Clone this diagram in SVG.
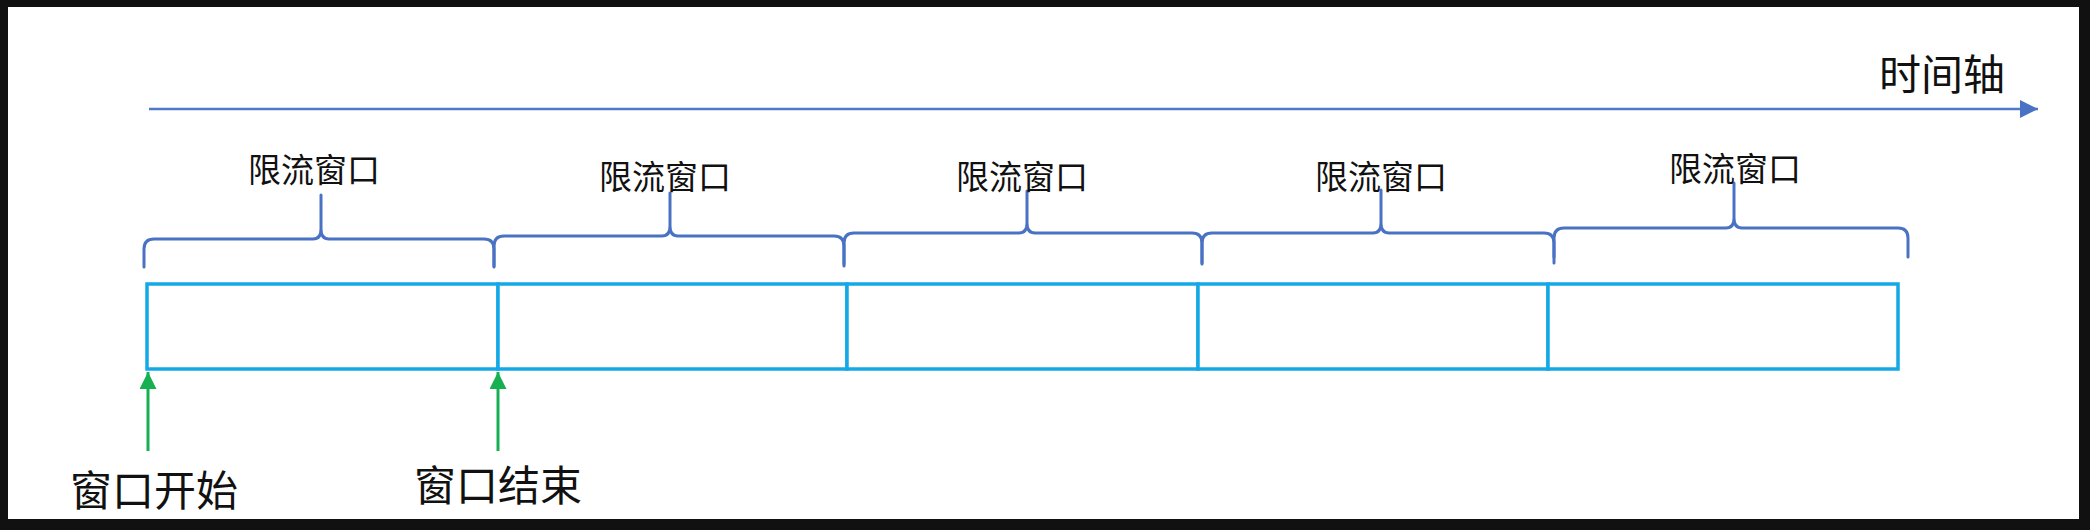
<svg xmlns="http://www.w3.org/2000/svg" width="2090" height="530" viewBox="0 0 2090 530">
  <style>
    .cell { fill: #ffffff; stroke: #14A9E6; stroke-width: 3.5; }
    .brace { fill: none; stroke: #4A72C4; stroke-width: 3; stroke-linecap: round; stroke-linejoin: round; }
    .lbl { font-family: "Noto Sans CJK SC", "Noto Sans", sans-serif; font-size: 33px; fill: #111111; text-anchor: middle; }
    .big { font-family: "Noto Sans CJK SC", "Noto Sans", sans-serif; font-size: 42px; fill: #111111; text-anchor: middle; }
    .axis { stroke: #5079C8; stroke-width: 2.5; fill: none; }
    .green { stroke: #16B052; stroke-width: 3; fill: none; }
  </style>
  <defs>
    <marker id="axisHead" markerUnits="userSpaceOnUse" markerWidth="18" markerHeight="18" refX="18" refY="9" orient="auto">
      <path d="M0,0 L18,9 L0,18 Z" fill="#4A72C4"/>
    </marker>
    <marker id="greenHead" markerUnits="userSpaceOnUse" markerWidth="17" markerHeight="17" refX="17" refY="8.5" orient="auto">
      <path d="M0,0 L17,8.5 L0,17 Z" fill="#16B052"/>
    </marker>
  </defs>

  <rect x="0" y="0" width="2090" height="530" fill="#111111"/>
  <rect x="8" y="7" width="2071" height="512" fill="#ffffff"/>

  <g id="window1">
    <rect class="cell" x="147" y="284" width="351" height="85"/>
    <path class="brace" d="M144,267 L144,249 Q144,239 154,239 L313,239 Q321,239 321,229 L321,195 M321,229 Q321,239 329,239 L484,239 Q494,239 494,249 L494,267"/>
    <text class="lbl" x="314" y="182">限流窗口</text>
  </g>
  <g id="window2">
    <rect class="cell" x="498" y="284" width="349" height="85"/>
    <path class="brace" d="M494,266 L494,246 Q494,236 504,236 L662,236 Q670,236 670,226 L670,193 M670,226 Q670,236 678,236 L834,236 Q844,236 844,246 L844,266"/>
    <text class="lbl" x="665" y="189">限流窗口</text>
  </g>
  <g id="window3">
    <rect class="cell" x="847" y="284" width="351" height="85"/>
    <path class="brace" d="M844,264 L844,243 Q844,233 854,233 L1019,233 Q1027,233 1027,223 L1027,191 M1027,223 Q1027,233 1035,233 L1192,233 Q1202,233 1202,243 L1202,264"/>
    <text class="lbl" x="1022" y="189">限流窗口</text>
  </g>
  <g id="window4">
    <rect class="cell" x="1198" y="284" width="350" height="85"/>
    <path class="brace" d="M1202,263 L1202,243 Q1202,233 1212,233 L1373,233 Q1381,233 1381,223 L1381,190 M1381,223 Q1381,233 1389,233 L1544,233 Q1554,233 1554,243 L1554,263"/>
    <text class="lbl" x="1381" y="189">限流窗口</text>
  </g>
  <g id="window5">
    <rect class="cell" x="1548" y="284" width="350" height="85"/>
    <path class="brace" d="M1554,257 L1554,238 Q1554,228 1564,228 L1726,228 Q1734,228 1734,218 L1734,183 M1734,218 Q1734,228 1742,228 L1898,228 Q1908,228 1908,238 L1908,257"/>
    <text class="lbl" x="1735" y="181">限流窗口</text>
  </g>

  <g id="connectors">
    <line class="axis" x1="149" y1="109" x2="2038" y2="109" marker-end="url(#axisHead)"/>
    <line class="green" x1="148" y1="451" x2="148" y2="372" marker-end="url(#greenHead)"/>
    <line class="green" x1="498" y1="451" x2="498" y2="372" marker-end="url(#greenHead)"/>
  </g>

  <g id="axis-label">
    <text class="big" x="1942" y="90">时间轴</text>
  </g>
  <g id="start-label">
    <text class="big" x="154" y="506">窗口开始</text>
  </g>
  <g id="end-label">
    <text class="big" x="498" y="501">窗口结束</text>
  </g>
</svg>
